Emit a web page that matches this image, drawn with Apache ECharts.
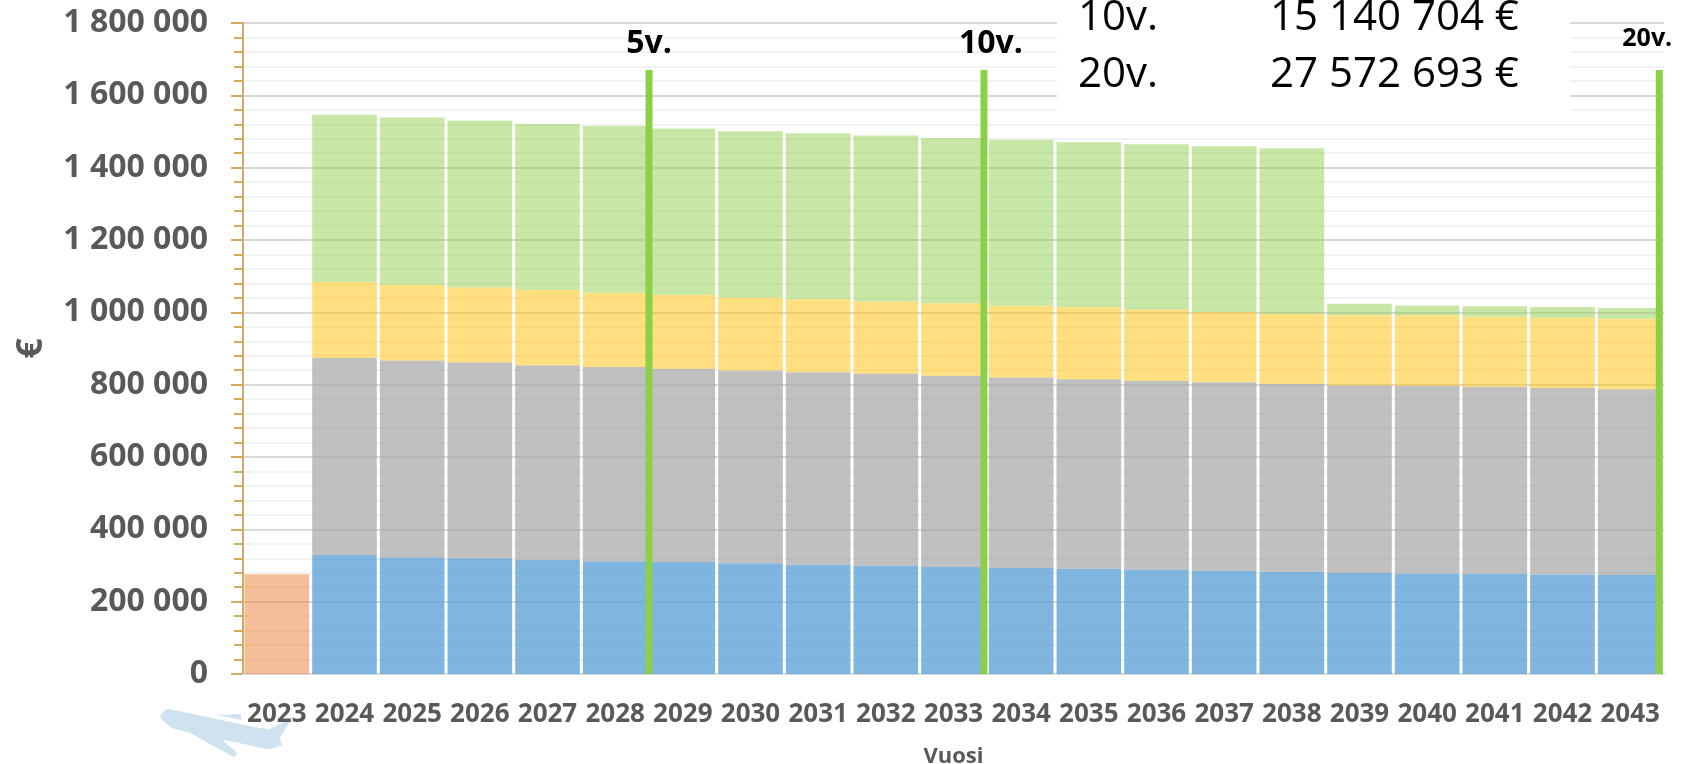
<!DOCTYPE html>
<html>
<head>
<meta charset="utf-8">
<title>Vuosi</title>
<script src="https://cdn.jsdelivr.net/npm/echarts@6/dist/echarts.min.js"></script>
<style>
html,body{margin:0;padding:0;background:#fff;}
#demo_1{width:1688px;height:764px;}
</style>
</head>
<body>
<div id="demo_1"></div>
<script>
var years = ['2023','2024','2025','2026','2027','2028','2029','2030','2031','2032','2033','2034','2035','2036','2037','2038','2039','2040','2041','2042','2043'];
// luettu kuvasta, euroa
var orange = [276000];
var blue = [null,329000,323000,320000,315000,312000,310000,306000,303000,299000,296000,294000,291000,288000,285000,283000,279000,278000,277000,275000,274000];
var gray = [null,545000,544000,542000,539000,537000,534000,533000,531000,531000,529000,526000,524000,523000,522000,519000,519000,518000,517000,516000,513000];
var yellow = [null,210000,209000,207000,208000,205000,204000,202000,202000,200000,200000,198000,199000,197000,194000,194000,194000,196000,194000,194000,195000];
var green = [null,462000,463000,461000,459000,461000,460000,460000,459000,459000,457000,459000,456000,457000,458000,458000,32000,27000,29000,30000,30000];
var markerNames = ['5v.','10v.','20v.'];
var markerPos = [6,10.95,20.93];
var markerTop = 1670000;
var summaryNames = ['10v.','20v.'];
var summaryValues = ['15 140 704 €','27 572 693 €'];

var fontName = '"Open Sans"';
var labelGray = '#595959';
var markerLabels = [
	{offset:[0,-5],fontSize:32},
	{offset:[7,-5],fontSize:32},
	{offset:[-12,-14],fontSize:25}
];

function barSeries(name,data,color){
	return {
		name:name,
		type:'bar',
		stack:'kulut',
		barCategoryGap:'4.5%',
		itemStyle:{color:color},
		data:data
	};
}

var series = [
	barSeries('2023',orange,'rgba(237,125,49,0.5)'),
	barSeries('sininen',blue,'rgba(91,160,213,0.78)'),
	barSeries('harmaa',gray,'rgba(165,165,165,0.7)'),
	barSeries('keltainen',yellow,'rgba(255,192,0,0.5)'),
	barSeries('vihrea',green,'rgba(146,208,80,0.5)')
];

// pystyviivat omalla piilotetulla akselilla, koska ne ovat vuosien rajoilla
markerNames.forEach(function(name,i){
	series.push({
		name:name,
		type:'line',
		xAxisIndex:1,
		z:5,
		symbol:'circle',
		symbolSize:0,
		clip:false,
		lineStyle:{color:'#8ccf48',width:7,cap:'butt'},
		data:[[markerPos[i],0],{
			value:[markerPos[i],markerTop],
			label:{
				show:true,
				position:'top',
				formatter:name,
				offset:markerLabels[i].offset,
				fontFamily:fontName,
				fontWeight:'bold',
				fontSize:markerLabels[i].fontSize,
				color:'#000'
			}
		}]
	});
});

var summaryText = [];
summaryNames.forEach(function(name,i){
	var y = 26 + i*57;
	summaryText.push({type:'text',z:11,left:1078,top:y-29,style:{text:name,font:'42px '+fontName,fill:'#000'}});
	summaryText.push({type:'text',z:11,left:1270,top:y-29,style:{text:summaryValues[i],font:'42px '+fontName,fill:'#000'}});
});

var mycharts_1 = echarts.init(document.getElementById('demo_1'));
mycharts_1.setOption({
	backgroundColor:'#fff',
	animation:false,
	grid:{left:243,right:24,top:23,height:651,outerBoundsMode:'none'},
	xAxis:[{
		type:'category',
		data:years,
		name:'Vuosi',
		nameLocation:'middle',
		nameGap:72,
		nameTextStyle:{fontFamily:fontName,fontWeight:'bold',fontSize:22,color:labelGray},
		axisLine:{lineStyle:{color:'#d9d9d9',width:2}},
		axisTick:{show:false},
		axisLabel:{interval:0,margin:28,fontFamily:fontName,fontWeight:'bold',fontSize:26,color:labelGray}
	},{
		type:'value',
		show:false,
		min:0,
		max:21
	}],
	yAxis:{
		type:'value',
		min:0,
		max:1800000,
		interval:200000,
		name:'€',
		nameLocation:'middle',
		nameGap:193,
		nameRotate:90,
		nameTextStyle:{fontFamily:fontName,fontWeight:'bold',fontSize:36,color:labelGray},
		axisLine:{show:true,lineStyle:{color:'#d2ab62',width:2}},
		axisTick:{show:true,length:12,lineStyle:{color:'#d2ab62',width:2}},
		minorTick:{show:true,splitNumber:5,length:9,lineStyle:{color:'#d2ab62',width:2}},
		splitLine:{show:true,lineStyle:{color:'#d9d9d9',width:2}},
		minorSplitLine:{show:true,lineStyle:{color:'#f2f2f2',width:2}},
		axisLabel:{
			margin:35,
			padding:[5,0,0,0],
			fontFamily:fontName,
			fontWeight:'bold',
			fontSize:32,
			color:labelGray,
			formatter:function(v){
				return String(v).replace(/\B(?=(\d{3})+$)/g,' ');
			}
		}
	},
	graphic:[{
		// lentokone vasemmassa alakulmassa
		type:'polygon',
		z:0,
		shape:{smooth:0.15,points:[[160,717],[167,709],[268,729],[292,718],[280,738],[282,745],[268,749],[223,740],[237,753],[234,757],[190,733],[172,728]]},
		style:{fill:'#cfe2ef'}
	},{
		type:'polygon',
		z:0,
		shape:{points:[[217,715],[241,714],[241,720]]},
		style:{fill:'#cfe2ef'}
	},{
		type:'rect',
		z:10,
		shape:{x:1057,y:0,width:513,height:117},
		style:{fill:'#fff'}
	}].concat(summaryText),
	series:series
});
</script>
</body>
</html>
